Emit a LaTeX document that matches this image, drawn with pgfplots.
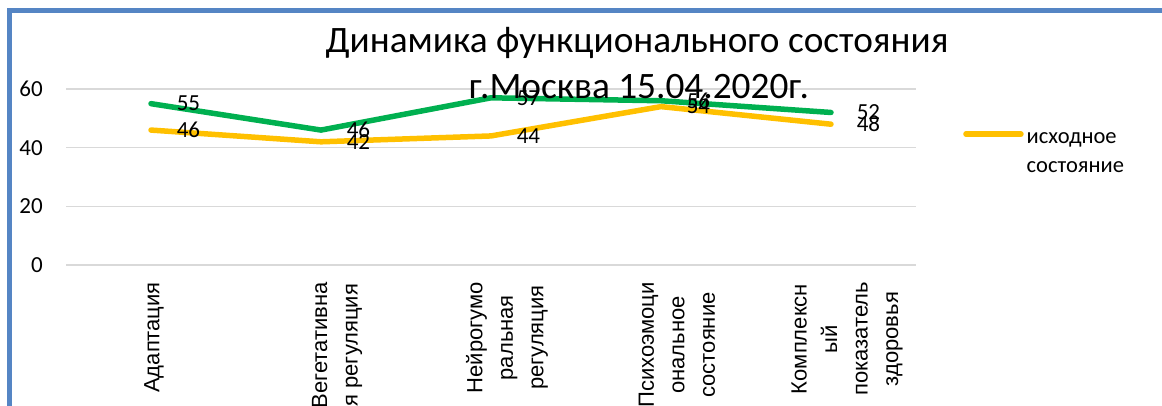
\documentclass[border=0pt]{standalone}
\usepackage{fontspec}
\setmainfont{Carlito}
\newfontfamily\arialfont{Liberation Sans}
\usepackage{pgfplots}
\pgfplotsset{compat=1.18}
\definecolor{cgreen}{HTML}{00B050}
\definecolor{cyellow}{HTML}{FFC000}
\definecolor{cgrid}{HTML}{D9D9D9}
\definecolor{cborder}{HTML}{5585C4}
\begin{document}
\begin{tikzpicture}[x=1pt,y=1pt]
\begin{axis}[
  at={(66pt,140pt)}, anchor=south west,
  scale only axis, width=850pt, height=176pt,
  xmin=-0.5, xmax=4.5, ymin=0, ymax=60,
  clip=false,
  axis line style={draw=none},
  major tick length=0pt,
  ymajorgrids,
  major grid style={cgrid, line width=1.5pt},
  ytick={0,20,40,60},
  xtick={0,1,2,3,4},
  xticklabels={{Адаптация\\\mbox{}},{Вегетативна\\я регуляция},{Нейрогумо\\ральная\\регуляция},{Психоэмоци\\ональное\\состояние},{Комплексн\\ый\\показатель\\здоровья}},
  /pgf/number format/assume math mode=true,
  yticklabel style={anchor=east, inner sep=0pt, xshift=-23pt, font=\fontsize{23}{27}\selectfont, text=black},
  xticklabel style={xshift=16pt, yshift=-17pt, rotate=90, anchor=east, align=center, inner sep=0pt, font=\arialfont\fontsize{22}{30.5}\selectfont, text=black},
  nodes near coords,
  every node near coord/.append style={anchor=west, inner sep=0pt, xshift=23pt, font=\fontsize{23}{27}\selectfont, text=black},
  legend style={draw=none, fill=none, at={(1.0553,0.639)}, anchor=west, inner sep=0pt,
    nodes={inner sep=0pt, align=left, font=\fontsize{22.5}{29}\selectfont, text=black}, column sep=3pt},
  legend cell align=left,
  legend image code/.code={\draw[#1, line cap=round] (0pt,19pt) -- (55pt,19pt);},
]
\addplot[cgreen, line width=5.5pt, line cap=round, line join=round, forget plot] coordinates {(0,55) (1,46) (2,57) (3,56) (4,52)};
\addplot[cyellow, line width=5.5pt, line cap=round, line join=round] coordinates {(0,46) (1,42) (2,44) (3,54) (4,48)};
\addlegendentry{исходное\\состояние}
\end{axis}
\node[anchor=base, font=\fontsize{37.3}{45}\selectfont, inner sep=0pt] at (637,352) {Динамика функционального состояния};
\node[anchor=base, font=\fontsize{37.3}{45}\selectfont, inner sep=0pt] at (639,306) {г.Москва 15.04.2020г.};
\draw[cborder, line width=4.5pt] (9.3,-10) -- (9.3,394.5) -- (1175,394.5);
\pgfresetboundingbox
\useasboundingbox (0,0) rectangle (1162,405);
\end{tikzpicture}
\end{document}
